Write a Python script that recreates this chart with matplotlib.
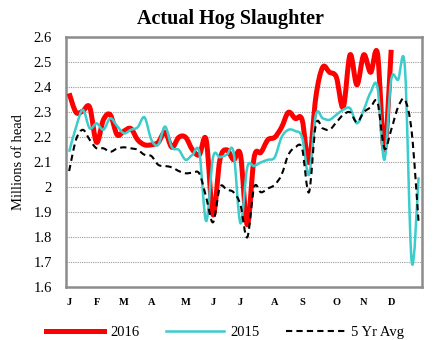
import numpy as np
import matplotlib
matplotlib.use("Agg")
import matplotlib.pyplot as plt
from matplotlib.path import Path
from matplotlib.patches import PathPatch
from matplotlib.lines import Line2D

# Weekly hog slaughter, millions of head (52 weeks)
slaughter_2016 = [
    2.376, 2.30, 2.305, 2.32, 2.18, 2.27, 2.29, 2.21, 2.225, 2.235,
    2.19, 2.17, 2.17, 2.18, 2.22, 2.16, 2.20, 2.20, 2.15, 2.13,
    2.19, 1.89, 2.11, 2.15, 2.11, 2.13, 1.85, 2.12, 2.14, 2.19,
    2.20, 2.24, 2.30, 2.275, 2.27, 2.10, 2.36, 2.48, 2.46, 2.44,
    2.32, 2.53, 2.41, 2.53, 2.46, 2.535, 2.15, 2.55,
]
slaughter_2015 = [
    2.142, 2.24, 2.31, 2.236, 2.256, 2.23, 2.276, 2.245, 2.216, 2.23,
    2.24, 2.28, 2.19, 2.17, 2.243, 2.16, 2.15, 2.11, 2.13, 2.14,
    1.865, 2.12, 2.12, 2.13, 2.14, 1.856, 2.08, 2.085, 2.10, 2.11,
    2.12, 2.20, 2.23, 2.225, 2.20, 2.05, 2.29, 2.276, 2.27, 2.29,
    2.31, 2.316, 2.256, 2.31, 2.38, 2.40, 2.11, 2.43, 2.43, 2.48,
    1.70, 2.04,
]
five_yr_avg = [
    2.065, 2.19, 2.23, 2.19, 2.156, 2.156, 2.142, 2.155, 2.16, 2.156,
    2.15, 2.13, 2.125, 2.09, 2.085, 2.08, 2.065, 2.056, 2.058, 2.055,
    1.96, 1.86, 2.00, 1.99, 1.98, 1.93, 1.80, 2.00, 1.98, 1.995,
    2.01, 2.05, 2.13, 2.16, 2.155, 1.98, 2.25, 2.236, 2.23, 2.26,
    2.29, 2.30, 2.26, 2.30, 2.32, 2.34, 2.156, 2.23, 2.32, 2.35,
    2.22, 1.86,
]
month_labels = ["J", "F", "M", "A", "M", "J", "J", "A", "S", "O", "N", "D"]
month_weeks = [0, 4, 8, 12, 17, 21, 25, 30, 34, 39, 43, 47]

serif = ["Liberation Serif", "DejaVu Serif"]
plt.rcParams["font.family"] = serif


def smooth_path(values, k=1.0 / 6.0):
    """Bezier path through the weekly points (smoothed-line style)."""
    y = np.asarray(values, dtype=float)
    x = np.arange(len(y), dtype=float)
    pts = np.column_stack([x, y])
    verts = [pts[0]]
    codes = [Path.MOVETO]
    n = len(pts)
    for i in range(n - 1):
        p0 = pts[i - 1] if i > 0 else pts[i]
        p1, p2 = pts[i], pts[i + 1]
        p3 = pts[i + 2] if i + 2 < n else pts[i + 1]
        c1 = p1 + (p2 - p0) * k
        c2 = p2 - (p3 - p1) * k
        verts += [c1, c2, p2]
        codes += [Path.CURVE4] * 3
    return Path(verts, codes)


fig = plt.figure(figsize=(4.34, 3.40), dpi=100)
ax = fig.add_axes([0.1514, 0.155, 0.8210, 0.7353])

styles = [
    (slaughter_2016, dict(color="#FF0000", lw=3.6, joinstyle="round",
                          capstyle="butt"), "2016", 3),
    (slaughter_2015, dict(color="#3CCCCC", lw=1.8, joinstyle="round"), "2015", 4),
    (five_yr_avg, dict(color="black", lw=1.5, linestyle=(0, (3.0, 2.0))),
     "5 Yr Avg", 5),
]
handles = []
for vals, st, lab, z in styles:
    ax.add_patch(PathPatch(smooth_path(vals), fill=False, zorder=z,
                           edgecolor=st["color"], linewidth=st["lw"],
                           linestyle=st.get("linestyle", "-"),
                           joinstyle=st.get("joinstyle", "round"),
                           capstyle=st.get("capstyle", "butt")))
    handles.append(Line2D([], [], color=st["color"], lw=st["lw"],
                          linestyle=st.get("linestyle", "-"), label=lab))

ax.set_xlim(-0.5, 51.5)
ax.set_ylim(1.6, 2.6)
ax.set_yticks(np.arange(1.6, 2.61, 0.1))
ax.set_yticklabels(["1.6", "1.7", "1.8", "1.9", "2", "2.1", "2.2",
                    "2.3", "2.4", "2.5", "2.6"], fontsize=10.5)
ax.set_xticks(month_weeks)
ax.set_xticklabels(month_labels, fontsize=7.5, fontweight="bold")
ax.tick_params(axis="both", length=0)
ax.tick_params(axis="y", pad=10)
ax.tick_params(axis="x", pad=8)

for y in np.arange(1.7, 2.55, 0.1):
    ax.axhline(y, color="#9a9a9a", lw=0.8, ls=(0, (1, 1)), zorder=1)

for s in ax.spines.values():
    s.set_color("#8c8c8c")
    s.set_linewidth(1.8)

ax.set_ylabel("Millions of head", fontsize=10.5, labelpad=6)

fig.text(0.53, 0.945, "Actual Hog Slaughter", ha="center", va="center",
         fontsize=14.5, fontweight="bold")

fig.legend(handles=handles, loc="center", bbox_to_anchor=(0.518, 0.022),
           ncol=3, frameon=False, fontsize=10.5, handlelength=4.0,
           handletextpad=0.45, columnspacing=1.8)

fig.savefig("out.png", dpi=100)
